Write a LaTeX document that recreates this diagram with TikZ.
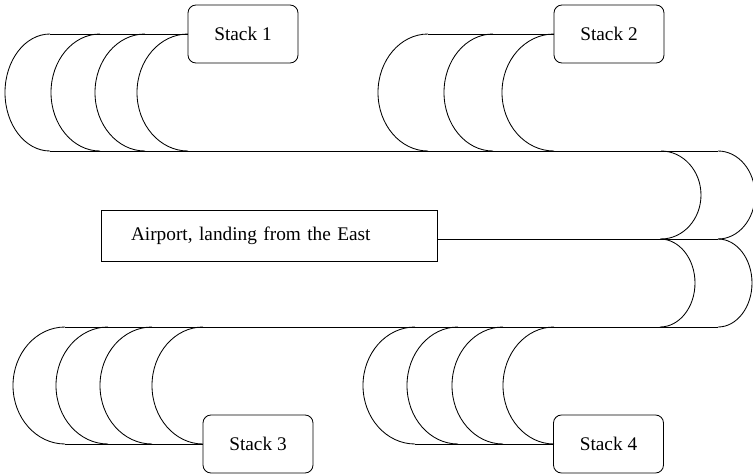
\documentclass[tikz,border=0pt]{standalone}
\usepackage{fontspec}
\setmainfont{Liberation Serif}
\begin{document}
\begin{tikzpicture}[x=1pt,y=-1pt,
  line width=0.85pt,
  every node/.style={font=\fontsize{19.3}{23}\selectfont},
  stackbox/.style={draw, rounded corners=8pt, minimum width=110pt, minimum height=58pt, inner sep=0pt},
  fieldbox/.style={draw, minimum width=336pt, minimum height=51pt, text width=276pt, align=left, inner xsep=30pt, inner ysep=0pt},
  loopwest/.style={start angle=270, end angle=90, y radius=58.5},
  loopeast/.style={start angle=-90, end angle=90, y radius=44}]
\useasboundingbox (0,0) rectangle (753,475);
\clip (0,0) rectangle (753,475);

% boxes
\node[stackbox] (s1) at (243,34) {Stack 1};
\node[stackbox] (s2) at (609,34) {Stack 2};
\node[stackbox] (s3) at (258,444) {Stack 3};
\node[stackbox] (s4) at (608.5,444) {Stack 4};
\node[fieldbox] (airport) at (269,236) {Airport, landing from the East};

% loop ends
\coordinate (n1) at (50,34);   \coordinate (n1b) at (50,151);
\coordinate (n2) at (428,34);
\coordinate (sw) at (65,327);  \coordinate (s3b) at (65,444);
\coordinate (s4b) at (415,444);
\coordinate (ea) at (718,151); \coordinate (eb) at (718,239); \coordinate (ec) at (718,327);

% stack 1 holding loops
\foreach \x/\r in {50/45, 100/49, 145/50, 188/51}
  \draw (\x,34) arc[loopwest, x radius=\r];
% stack 2 holding loops
\foreach \x/\r in {428/50, 493/49, 554/52}
  \draw (\x,34) arc[loopwest, x radius=\r];
% stack 3 holding loops
\foreach \x/\r in {65/52, 108/52, 152/52, 203/51}
  \draw (\x,327) arc[loopwest, x radius=\r];
% stack 4 holding loops
\foreach \x/\r in {415/52, 458/51, 503/51, 554/51}
  \draw (\x,327) arc[loopwest, x radius=\r];

% turns on the east side
\draw (661,151) arc[loopeast, x radius=40];
\draw (ea) arc[loopeast, x radius=37];
\draw (660,239) arc[loopeast, x radius=35];
\draw (eb) arc[loopeast, x radius=34];

% tracks
\draw (n1) -- (s1.west);
\draw (n2) -- (s2.west);
\draw (n1b) -- (ea);
\draw (airport.east |- eb) -- (eb);
\draw (sw) -- (ec);
\draw (s3b) -- (s3.west);
\draw (s4b) -- (s4.west);
\end{tikzpicture}
\end{document}
